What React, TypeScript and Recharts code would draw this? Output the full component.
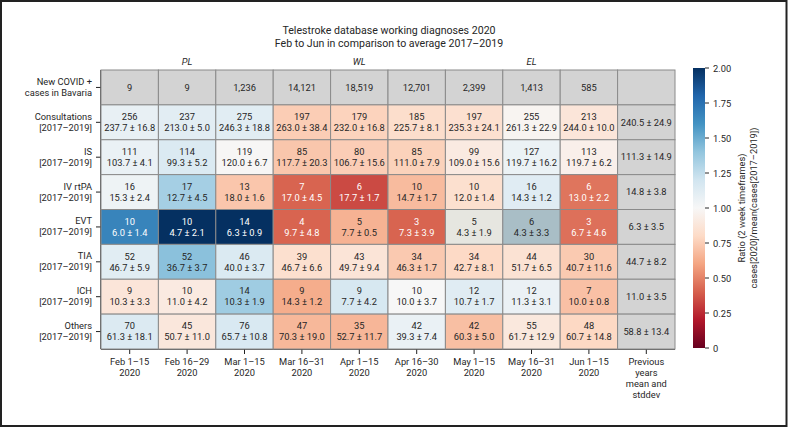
import { Scatter, ScatterChart, XAxis, YAxis } from "recharts";

// ---- data ----
const COLUMNS = [
  "Feb 1–15\n2020",
  "Feb 16–29\n2020",
  "Mar 1–15\n2020",
  "Mar 16–31\n2020",
  "Apr 1–15\n2020",
  "Apr 16–30\n2020",
  "May 1–15\n2020",
  "May 16–31\n2020",
  "Jun 1–15\n2020",
  "Previous\nyears\nmean and\nstddev",
];

const ROWS = [
  "New COVID +\ncases in Bavaria",
  "Consultations\n[2017–2019]",
  "IS\n[2017–2019]",
  "IV rtPA\n[2017–2019]",
  "EVT\n[2017–2019]",
  "TIA\n[2017–2019]",
  "ICH\n[2017–2019]",
  "Others\n[2017–2019]",
];

const PHASES = [
  { col: 1, label: "PL" },
  { col: 4, label: "WL" },
  { col: 7, label: "EL" },
];

const COVID_CASES = [9, 9, 1236, 14121, 18519, 12701, 2399, 1413, 585];

// cases in 2020, per diagnosis row
const CASES_2020 = [
  [256, 237, 275, 197, 179, 185, 197, 255, 213],
  [111, 114, 119, 85, 80, 85, 99, 127, 113],
  [16, 17, 13, 7, 6, 10, 10, 16, 6],
  [10, 10, 14, 4, 5, 3, 5, 6, 3],
  [52, 52, 46, 39, 43, 34, 34, 44, 30],
  [9, 10, 14, 9, 9, 10, 12, 12, 7],
  [70, 45, 76, 47, 35, 42, 42, 55, 48],
];

// mean of the same timeframe 2017–2019
const MEAN_PRIOR = [
  [237.7, 213.0, 246.3, 263.0, 232.0, 225.7, 235.3, 261.3, 244.0],
  [103.7, 99.3, 120.0, 117.7, 106.7, 111.0, 109.0, 119.7, 119.7],
  [15.3, 12.7, 18.0, 17.0, 17.7, 14.7, 12.0, 14.3, 13.0],
  [6.0, 4.7, 6.3, 9.7, 7.7, 7.3, 4.3, 4.3, 6.7],
  [46.7, 36.7, 40.0, 46.7, 49.7, 46.3, 42.7, 51.7, 40.7],
  [10.3, 11.0, 10.3, 14.3, 7.7, 10.0, 10.7, 11.3, 10.0],
  [61.3, 50.7, 65.7, 70.3, 52.7, 39.3, 60.3, 61.7, 60.7],
];

const SD_PRIOR = [
  [16.8, 5.0, 18.8, 38.4, 16.8, 8.1, 24.1, 22.9, 10.0],
  [4.1, 5.2, 6.7, 20.3, 15.6, 7.9, 15.6, 16.2, 6.2],
  [2.4, 4.5, 1.6, 4.5, 1.7, 1.7, 1.4, 1.2, 2.2],
  [1.4, 2.1, 0.9, 4.8, 0.5, 3.9, 1.9, 3.3, 4.6],
  [5.9, 3.7, 3.7, 6.6, 9.4, 1.7, 8.1, 6.5, 11.6],
  [3.3, 4.2, 1.9, 1.2, 4.2, 3.7, 1.7, 3.1, 0.8],
  [18.1, 11.0, 10.8, 19.0, 11.7, 7.4, 5.0, 12.9, 14.8],
];

const PREV_MEAN = [240.5, 111.3, 14.8, 6.3, 44.7, 11.0, 58.8];
const PREV_SD = [24.9, 14.9, 3.8, 3.5, 8.2, 3.5, 13.4];

const COLORBAR_TICKS = [0, 0.25, 0.5, 0.75, 1.0, 1.25, 1.5, 1.75, 2.0];

// ---- colours ----
const RDBU = [
  "#67001f", "#b2182b", "#d6604d", "#f4a582", "#fddbc7", "#f7f7f7",
  "#d1e5f0", "#92c5de", "#4393c3", "#2166ac", "#053061",
];
const GREY = "#d3d3d3";
// two EVT cells are drawn greyed out in the reference
const MUTED_FILL: Record<string, string> = { "4,6": "#e6e6e0", "4,7": "#a9bec6" };

function hexToRgb(h: string) {
  return [1, 3, 5].map((i) => parseInt(h.slice(i, i + 2), 16));
}
function rdbu(ratio: number) {
  const t = Math.max(0, Math.min(1, ratio / 2)) * 10;
  const i = Math.min(9, Math.floor(t));
  const f = t - i;
  const a = hexToRgb(RDBU[i]);
  const b = hexToRgb(RDBU[i + 1]);
  return `rgb(${a.map((v, k) => Math.round(v + (b[k] - v) * f)).join(",")})`;
}

// ---- layout ----
const W = 788;
const H = 427;
const MARGIN = { top: 70, right: 113, bottom: 0, left: 0 };
const Y_AXIS_W = 101;
const X_AXIS_H = 78;
const PLOT_W = W - MARGIN.left - MARGIN.right - Y_AXIS_W;
const PLOT_H = H - MARGIN.top - MARGIN.bottom - X_AXIS_H;
const CELL_W = PLOT_W / COLUMNS.length;
const CELL_H = PLOT_H / ROWS.length;
const FONT = "Roboto, 'Noto Sans', sans-serif";
const FS = 9.3;
const TEXT = "#262626";
const LINE = 11;

type CellDatum = {
  x: number;
  y: number;
  lines: string[];
  fill: string;
  textColor: string;
};

const cells: CellDatum[] = [];
COVID_CASES.forEach((v, c) =>
  cells.push({ x: c + 0.5, y: 0.5, lines: [v.toLocaleString("en-US")], fill: GREY, textColor: TEXT })
);
cells.push({ x: 9.5, y: 0.5, lines: [], fill: GREY, textColor: TEXT });
CASES_2020.forEach((row, r) => {
  row.forEach((v, c) => {
    const ratio = v / MEAN_PRIOR[r][c];
    cells.push({
      x: c + 0.5,
      y: r + 1.5,
      lines: [String(v), `${MEAN_PRIOR[r][c].toFixed(1)} ± ${SD_PRIOR[r][c].toFixed(1)}`],
      fill: MUTED_FILL[`${r + 1},${c}`] ?? rdbu(ratio),
      textColor: ratio < 0.5 || ratio > 1.5 ? "#ffffff" : TEXT,
    });
  });
  cells.push({
    x: 9.5,
    y: r + 1.5,
    lines: [`${PREV_MEAN[r].toFixed(1)} ± ${PREV_SD[r].toFixed(1)}`],
    fill: GREY,
    textColor: TEXT,
  });
});

function HeatCell(props: any) {
  const { cx, cy, payload } = props;
  const n = payload.lines.length;
  const y0 = cy - ((n - 1) * LINE) / 2 + 3.3;
  return (
    <g>
      <rect
        x={cx - CELL_W / 2}
        y={cy - CELL_H / 2}
        width={CELL_W}
        height={CELL_H}
        fill={payload.fill}
        stroke="#8a8a8a"
        strokeWidth={1}
      />
      {payload.lines.map((l: string, i: number) => (
        <text
          key={i}
          x={cx}
          y={y0 + i * LINE}
          textAnchor="middle"
          fontSize={FS}
          fontFamily={FONT}
          fill={payload.textColor}
        >
          {l}
        </text>
      ))}
    </g>
  );
}

function XTick(props: any) {
  const { x, y, payload } = props;
  const lines = COLUMNS[Math.floor(payload.value)].split("\n");
  return (
    <g>
      {lines.map((l, i) => (
        <text key={i} x={x} y={y + 9 + i * LINE} textAnchor="middle" fontSize={FS} fontFamily={FONT} fill={TEXT}>
          {l}
        </text>
      ))}
    </g>
  );
}

function YTick(props: any) {
  const { x, y, payload } = props;
  const lines = ROWS[Math.floor(payload.value)].split("\n");
  return (
    <g>
      {lines.map((l, i) => (
        <text key={i} x={x} y={y - 2.5 + i * LINE} textAnchor="end" fontSize={FS} fontFamily={FONT} fill={TEXT}>
          {l}
        </text>
      ))}
    </g>
  );
}

function Overlay() {
  const cbX = 693;
  const cbW = 12;
  const cbTop = 68;
  const cbBottom = 348;
  const yOf = (v: number) => cbBottom - (v / 2) * (cbBottom - cbTop);
  return (
    <svg
      width={W}
      height={H}
      style={{ position: "absolute", left: 0, top: 0, pointerEvents: "none" }}
    >
      <rect x={1} y={1} width={W - 2.5} height={H - 2} fill="none" stroke="#222" strokeWidth={2} />
      <text x={389} y={34} textAnchor="middle" fontSize={10.6} fontFamily={FONT} fill={TEXT}>
        Telestroke database working diagnoses 2020
      </text>
      <text x={389} y={47} textAnchor="middle" fontSize={10.6} fontFamily={FONT} fill={TEXT}>
        Feb to Jun in comparison to average 2017–2019
      </text>
      {PHASES.map((p) => (
        <text
          key={p.label}
          x={MARGIN.left + Y_AXIS_W + (p.col + 0.5) * CELL_W}
          y={MARGIN.top - 5}
          textAnchor="middle"
          fontSize={FS}
          fontStyle="italic"
          fontFamily={FONT}
          fill={TEXT}
        >
          {p.label}
        </text>
      ))}
      <defs>
        <linearGradient id="cb" x1="0" y1="1" x2="0" y2="0">
          {RDBU.map((c, i) => (
            <stop key={i} offset={i / (RDBU.length - 1)} stopColor={c} />
          ))}
        </linearGradient>
      </defs>
      <rect x={cbX} y={cbTop} width={cbW} height={cbBottom - cbTop} fill="url(#cb)" />
      {COLORBAR_TICKS.map((t) => (
        <g key={t}>
          <line x1={cbX + cbW} x2={cbX + cbW + 4} y1={yOf(t)} y2={yOf(t)} stroke={TEXT} strokeWidth={1} />
          <text x={cbX + cbW + 8} y={yOf(t) + 3.5} fontSize={FS} fontFamily={FONT} fill={TEXT}>
            {t === 0 ? "0" : t.toFixed(2)}
          </text>
        </g>
      ))}
      <text
        transform="translate(745,208) rotate(-90)"
        textAnchor="middle"
        fontSize={FS}
        fontFamily={FONT}
        fill={TEXT}
      >
        Ratio (2 week timeframes)
      </text>
      <text
        transform="translate(756.5,208) rotate(-90)"
        textAnchor="middle"
        fontSize={FS}
        fontFamily={FONT}
        fill={TEXT}
      >
        cases[2020]/mean(cases[2017–2019])
      </text>
    </svg>
  );
}

export default function App() {
  const xTicks = COLUMNS.map((_, i) => i + 0.5);
  const yTicks = ROWS.map((_, i) => i + 0.5);
  return (
    <div style={{ position: "absolute", left: 0, top: 0, width: W, height: H, background: "#fff" }}>
      <ScatterChart width={W} height={H} margin={MARGIN}>
        <XAxis
          type="number"
          dataKey="x"
          domain={[0, COLUMNS.length]}
          ticks={xTicks}
          tick={<XTick />}
          height={X_AXIS_H}
          interval={0}
          tickSize={5}
          tickMargin={2}
          axisLine={{ stroke: "#222", strokeWidth: 1.5 }}
          tickLine={{ stroke: "#222" }}
        />
        <YAxis
          type="number"
          dataKey="y"
          domain={[0, ROWS.length]}
          reversed
          ticks={yTicks}
          tick={<YTick />}
          width={Y_AXIS_W}
          interval={0}
          tickSize={5}
          tickMargin={4}
          axisLine={{ stroke: "#222", strokeWidth: 1.5 }}
          tickLine={{ stroke: "#222" }}
        />
        <Scatter data={cells} shape={HeatCell} isAnimationActive={false} />
      </ScatterChart>
      <Overlay />
    </div>
  );
}
